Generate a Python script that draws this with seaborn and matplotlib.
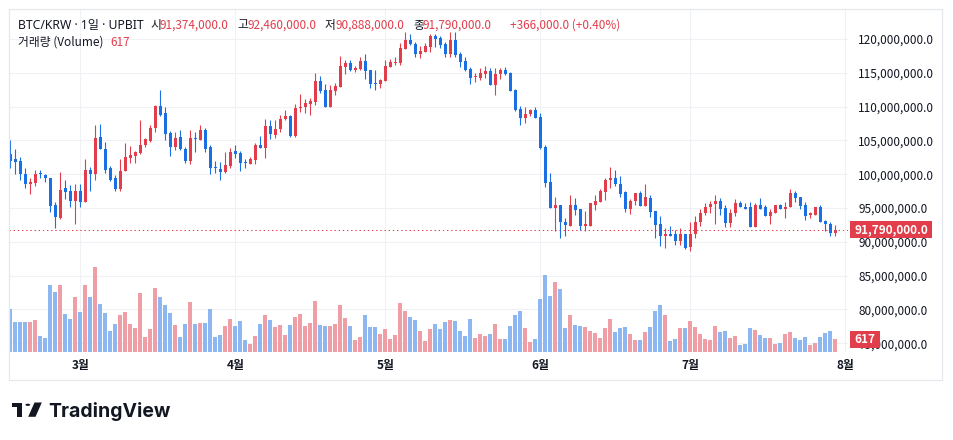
import numpy as np
import pandas as pd
import matplotlib
matplotlib.use("Agg")
import matplotlib.pyplot as plt
from matplotlib.patches import Rectangle, Circle, Polygon
import seaborn as sns

# ---------------- data (prices in million KRW, daily candles Feb 15 -> Jul 30) ----------------
opens = [103.0, 102.2, 101.9, 100.1, 98.5, 98.7, 100.1, 99.9, 99.5, 95.4,
         93.6, 97.9, 97.5, 96.0, 97.6, 95.9, 100.6, 100.1, 105.5, 103.8,
         100.9, 99.4, 97.8, 100.5, 102.4, 102.7, 103.1, 104.3, 104.9, 106.9,
         110.1, 109.0, 106.1, 104.0, 105.5, 103.8, 102.0, 105.3, 105.1, 106.6,
         104.0, 101.0, 100.8, 100.3, 101.3, 103.4, 103.1, 101.8, 101.5, 102.1,
         104.3, 103.9, 107.2, 105.8, 106.7, 108.2, 108.6, 105.7, 109.8, 110.0,
         110.4, 110.7, 113.8, 112.4, 110.0, 112.3, 112.9, 115.9, 116.5, 115.5,
         115.6, 116.8, 115.4, 113.5, 113.4, 113.8, 115.9, 116.5, 116.5, 118.6,
         119.9, 119.3, 117.8, 118.1, 118.9, 120.4, 120.2, 119.3, 117.8, 119.9,
         117.8, 116.7, 115.6, 114.4, 114.3, 114.8, 115.3, 113.2, 114.8, 115.4,
         115.0, 112.4, 109.6, 108.3, 108.9, 109.5, 108.5, 104.1, 98.8, 95.0,
         95.5, 93.0, 92.4, 95.5, 94.8, 92.4, 92.4, 95.5, 95.9, 97.4,
         99.1, 99.5, 98.6, 97.4, 94.9, 96.1, 97.3, 95.3, 96.5, 94.5,
         92.6, 90.8, 91.1, 91.1, 90.1, 91.1, 89.2, 91.1, 92.9, 94.2,
         95.1, 95.6, 96.1, 95.0, 92.8, 94.2, 95.7, 95.2, 95.1, 92.2,
         95.4, 95.1, 93.8, 94.3, 95.5, 94.9, 95.1, 97.2, 96.6, 95.4,
         94.0, 94.0, 95.1, 93.1, 92.7, 91.374]
highs = [105.0, 103.7, 102.5, 101.0, 99.4, 100.6, 100.6, 100.1, 99.5, 95.9,
         100.4, 99.2, 98.4, 98.6, 98.6, 102.2, 101.1, 107.3, 107.5, 104.8,
         101.2, 99.9, 102.2, 104.7, 104.2, 103.5, 108.1, 105.4, 107.3, 110.2,
         112.4, 110.0, 106.4, 106.3, 106.5, 104.0, 106.6, 106.3, 107.3, 106.8,
         104.3, 102.0, 101.8, 103.3, 103.9, 104.3, 103.5, 102.2, 102.5, 104.6,
         105.6, 108.2, 108.0, 108.1, 108.8, 109.5, 108.8, 110.4, 111.9, 111.1,
         111.3, 115.0, 114.5, 113.3, 113.2, 113.5, 117.5, 116.9, 116.9, 116.0,
         117.3, 117.8, 115.4, 115.5, 114.1, 116.9, 117.0, 117.3, 119.4, 121.1,
         120.8, 119.6, 119.0, 119.4, 120.7, 120.7, 120.4, 119.5, 121.1, 121.1,
         118.1, 117.3, 115.8, 115.0, 115.7, 116.0, 115.7, 115.7, 115.7, 115.9,
         115.2, 112.6, 110.1, 109.9, 109.7, 110.0, 109.0, 104.3, 100.2, 96.6,
         95.5, 93.6, 97.0, 96.5, 94.8, 94.5, 95.8, 97.0, 97.8, 99.5,
         101.1, 100.7, 99.7, 97.6, 96.3, 97.3, 97.6, 98.6, 97.0, 94.5,
         93.8, 92.0, 92.3, 91.7, 92.1, 91.2, 92.9, 93.9, 94.8, 95.7,
         96.1, 97.0, 96.5, 95.4, 94.8, 96.3, 96.1, 95.8, 95.9, 95.7,
         96.5, 95.4, 94.9, 95.5, 95.6, 95.9, 97.8, 97.6, 96.7, 95.9,
         94.4, 95.2, 95.5, 93.2, 93.0, 92.46]
lows = [100.9, 100.1, 99.1, 98.0, 97.1, 98.2, 99.4, 98.9, 94.4, 92.0,
        93.4, 96.3, 95.1, 92.6, 95.1, 95.9, 97.5, 99.1, 103.7, 100.2,
        99.0, 97.5, 97.5, 100.5, 101.7, 101.6, 103.0, 104.1, 104.8, 106.3,
        108.6, 105.1, 102.7, 103.6, 103.6, 101.7, 101.5, 103.3, 105.1, 103.3,
        100.0, 100.2, 99.2, 100.2, 100.9, 102.4, 100.5, 100.9, 101.5, 101.5,
        103.9, 102.4, 105.2, 105.3, 106.3, 108.0, 105.5, 105.5, 109.2, 109.1,
        108.7, 110.2, 112.0, 110.0, 110.0, 111.7, 112.9, 114.9, 115.3, 115.2,
        115.4, 114.1, 112.8, 112.4, 112.7, 113.8, 115.9, 116.1, 116.2, 118.5,
        119.1, 117.3, 117.2, 118.1, 118.1, 118.9, 118.7, 117.4, 117.4, 117.4,
        115.9, 115.3, 113.3, 113.7, 114.0, 114.3, 113.2, 111.8, 114.1, 114.7,
        112.3, 109.3, 107.3, 107.6, 108.6, 108.3, 103.8, 98.1, 95.0, 91.6,
        90.6, 90.9, 92.4, 94.0, 91.8, 91.6, 92.4, 94.7, 95.9, 96.2,
        98.0, 98.2, 96.6, 94.4, 94.1, 95.5, 95.3, 95.3, 93.7, 90.6,
        89.4, 89.1, 90.8, 89.6, 89.5, 89.0, 88.7, 90.6, 92.4, 94.0,
        94.2, 92.6, 94.0, 92.2, 92.2, 93.9, 95.1, 94.8, 92.2, 92.2,
        94.9, 93.8, 92.6, 94.3, 94.8, 93.6, 95.1, 95.9, 94.9, 93.3,
        93.5, 94.0, 93.0, 91.6, 90.9, 90.888]
closes = [102.0, 101.8, 100.0, 98.5, 98.8, 100.1, 100.0, 99.4, 95.3, 93.7,
          97.7, 97.4, 96.0, 97.6, 95.9, 100.6, 100.1, 105.4, 103.7, 100.6,
          99.2, 97.8, 100.5, 102.5, 102.8, 103.3, 104.4, 105.2, 106.9, 110.1,
          108.8, 106.0, 104.0, 105.3, 103.7, 102.0, 105.3, 105.2, 106.5, 103.8,
          100.9, 100.9, 100.3, 101.4, 103.3, 103.0, 101.7, 101.7, 102.2, 104.3,
          103.9, 107.2, 105.9, 106.7, 108.2, 108.6, 105.7, 109.8, 110.0, 110.5,
          110.8, 113.8, 112.3, 110.0, 112.4, 113.0, 116.0, 116.4, 115.4, 115.7,
          116.8, 115.3, 113.4, 113.4, 113.9, 116.0, 116.6, 116.6, 118.7, 119.8,
          119.3, 117.8, 118.2, 119.0, 120.5, 120.0, 119.2, 117.8, 119.9, 117.6,
          116.6, 115.4, 114.3, 114.5, 115.0, 115.3, 113.2, 114.9, 115.4, 114.8,
          112.3, 109.5, 108.3, 108.9, 109.5, 108.3, 103.9, 98.7, 95.0, 95.5,
          92.9, 92.5, 95.4, 94.7, 92.4, 92.6, 95.7, 96.0, 97.5, 99.2,
          99.5, 98.5, 97.1, 94.9, 96.1, 97.3, 95.3, 96.6, 94.4, 92.5,
          90.8, 91.1, 90.9, 90.2, 91.1, 89.1, 91.1, 93.0, 94.3, 95.2,
          95.6, 96.0, 94.8, 92.8, 94.3, 95.7, 95.1, 94.8, 92.2, 95.5,
          94.9, 93.8, 94.4, 95.5, 94.9, 95.2, 97.2, 96.5, 95.3, 93.9,
          94.2, 95.1, 93.0, 92.6, 91.3, 91.79]
volumes = [2074, 1442, 1442, 1442, 1442, 1539, 761, 664, 3240, 2900,
           3240, 1831, 1588, 2657, 1944, 3240, 2657, 4131, 2317, 1879,
           1004, 1345, 1782, 1944, 1345, 1150, 2851, 713, 1102, 3094,
           2657, 2268, 1879, 1296, 713, 1345, 2414, 1345, 1393, 1393,
           2074, 713, 810, 1247, 1588, 1247, 1490, 567, 373, 761,
           1345, 1782, 1539, 1199, 1296, 810, 1296, 1685, 1831, 1247,
           1393, 2462, 1296, 1247, 1247, 1345, 2268, 1636, 1247, 567,
           713, 1782, 1199, 1199, 859, 1102, 616, 810, 2365, 1976,
           1685, 1539, 1004, 518, 1102, 1345, 1102, 1442, 1539, 1490,
           1004, 761, 1588, 664, 859, 761, 859, 1345, 616, 616,
           1247, 1782, 1976, 1150, 470, 616, 2560, 3726, 2705, 3386,
           3046, 1150, 1782, 1296, 1247, 1199, 1004, 907, 664, 1150,
           1588, 956, 1150, 1199, 859, 567, 567, 956, 1199, 1976,
           2268, 1782, 518, 616, 1150, 1150, 1490, 1199, 859, 616,
           567, 1247, 956, 1004, 664, 761, 324, 373, 1150, 1053,
           810, 664, 664, 373, 421, 859, 956, 664, 567, 713,
           324, 421, 713, 907, 1004, 617]

month_days = [14, 45, 75, 106, 136, 167]
month_labels = ["3월", "4월", "5월", "6월", "7월", "8월"]
price_ticks = [75, 80, 85, 90, 95, 100, 105, 110, 115, 120]

header_pieces = [("BTC/KRW · 1일 · UPBIT", 18, "dark"), ("시", 150.5, "dark"),
                 ("91,374,000.0", 159.5, "red"), ("고", 237.5, "dark"),
                 ("92,460,000.0", 248, "red"), ("저", 325, "dark"),
                 ("90,888,000.0", 335, "red"), ("종", 413, "dark"),
                 ("91,790,000.0", 422.5, "red"), ("+366,000.0 (+0.40%)", 510, "red")]
volume_pieces = [("거래량 (Volume)", 18, "dark"), ("617", 110, "red")]
last_price = 91.79
last_volume = 617

# ---------------- style ----------------
sns.set_theme(style="white")
plt.rcParams["font.family"] = ["Noto Sans CJK KR", "DejaVu Sans"]
LATIN_FIRST = ["Noto Sans", "Noto Sans CJK KR", "DejaVu Sans"]

W, H = 954, 440
UP, DOWN = "#e23d4b", "#1a6fe3"
UP_V, DOWN_V = "#f09ea5", "#8cb7f1"
DARK = "#131722"
GRID = "#f0f1f4"

def fx(x):
    return x / W

def fy(y):
    return 1 - y / H

fig = plt.figure(figsize=(W / 100, H / 100), dpi=100, facecolor="white")
L, T, R, B = 9.5, 9.5, 848, 352
ax = fig.add_axes([fx(L), fy(B), (R - L) / W, (B - T) / H])
axv = ax.twinx()

o = np.array(opens); h = np.array(highs); lo = np.array(lows); c = np.array(closes)
idx = np.arange(len(o))
up = c >= o
cols = np.where(up, UP, DOWN)

# volume via seaborn
df = pd.DataFrame({"day": idx, "volume": volumes, "dir": np.where(up, "up", "down")})
sns.barplot(data=df, x="day", y="volume", hue="dir", palette={"up": UP_V, "down": DOWN_V},
            native_scale=True, width=0.8, dodge=False, saturation=1, errorbar=None,
            legend=False, linewidth=0, ax=axv)

# candles
ax.vlines(idx, lo, h, colors=cols, linewidth=0.8, zorder=3)
ax.bar(idx, np.maximum(np.abs(c - o), 0.16), bottom=np.minimum(o, c), width=0.64,
       color=cols, linewidth=0, zorder=4)

ax.set_xlim(-0.16, 167.54)
ax.set_ylim(73.71, 124.38)
axv.set_ylim(0, 16650)
axv.set_xlim(-0.16, 167.54)

ax.set_xticks(month_days)
ax.set_xticklabels(month_labels)
ax.set_yticks(price_ticks)
ax.set_yticklabels([f"{v * 1_000_000:,.1f}" for v in price_ticks])
ax.yaxis.tick_right()
ax.tick_params(axis="y", length=0, pad=7.5, labelsize=8.5, labelcolor=DARK)
ax.tick_params(axis="x", length=0, pad=5, labelsize=8.5, labelcolor=DARK)
for lab in ax.get_xticklabels():
    lab.set_fontweight("bold")
ax.grid(True, color=GRID, linewidth=0.8)
ax.set_axisbelow(True)
axv.set_yticks([])
axv.set_xlabel(""); axv.set_ylabel("")
ax.set_xlabel(""); ax.set_ylabel("")
for a in (ax, axv):
    for s in a.spines.values():
        s.set_visible(False)
axv.tick_params(axis="x", labelbottom=False, length=0)

# last price dotted line
ax.axhline(last_price, color=UP, linestyle=(0, (1.3, 2.7)), linewidth=0.75, zorder=2)

fig.canvas.draw()
yc_price = ax.transData.transform((0, last_price))[1] / fig.bbox.height
yc_vol = axv.transData.transform((0, last_volume))[1] / fig.bbox.height

fig.patches.append(Rectangle((fx(850), yc_price - 8.5 / H), 82 / W, 17 / H,
                             transform=fig.transFigure, facecolor=UP, edgecolor="none", zorder=5))
fig.text(fx(891), yc_price, "91,790,000.0", color="white", fontsize=8.5, fontweight="bold",
         ha="center", va="center", zorder=6)
fig.patches.append(Rectangle((fx(850), yc_vol - 8.5 / H), 30 / W, 17 / H,
                             transform=fig.transFigure, facecolor=UP, edgecolor="none", zorder=5))
fig.text(fx(865), yc_vol, "617", color="white", fontsize=8.5, fontweight="bold",
         ha="center", va="center", zorder=6)

# header texts
for i, (txt, x, kind) in enumerate(header_pieces):
    fig.text(fx(x), fy(25), txt, color=DARK if kind == "dark" else UP,
             fontsize=8.8 if i == 0 else 8.5,
             ha="left", va="center", family=LATIN_FIRST if i == 0 else None)
for txt, x, kind in volume_pieces:
    fig.text(fx(x), fy(42.5), txt, color=DARK if kind == "dark" else UP, fontsize=8.5,
             ha="left", va="center")

# outer border
fig.patches.append(Rectangle((fx(9.5), fy(380)), (942 - 9.5) / W, (380 - 9.5) / H,
                             transform=fig.transFigure, fill=False, edgecolor="#e6e8ee",
                             linewidth=0.9, zorder=0))

# TradingView logo
fig.patches.append(Rectangle((fx(12), fy(407)), 10 / W, 4.5 / H, transform=fig.transFigure,
                             facecolor=DARK, edgecolor="none"))
fig.patches.append(Rectangle((fx(17), fy(416.8)), 5 / W, 14.3 / H, transform=fig.transFigure,
                             facecolor=DARK, edgecolor="none"))
fig.patches.append(Circle((fx(27.8), fy(404.8)), 2.4 / W, transform=fig.transFigure,
                          facecolor=DARK, edgecolor="none"))
fig.patches.append(Polygon([(fx(34.5), fy(402.5)), (fx(41.8), fy(402.5)), (fx(35.5), fy(416.8)),
                            (fx(28.2), fy(416.8))], closed=True, transform=fig.transFigure,
                           facecolor=DARK, edgecolor="none"))
fig.text(fx(48.5), fy(416.8), "TradingView", color=DARK, fontsize=14, fontweight="bold",
         family=["Inter", "DejaVu Sans"], ha="left", va="baseline")

fig.savefig("out.png", dpi=100, facecolor="white")
